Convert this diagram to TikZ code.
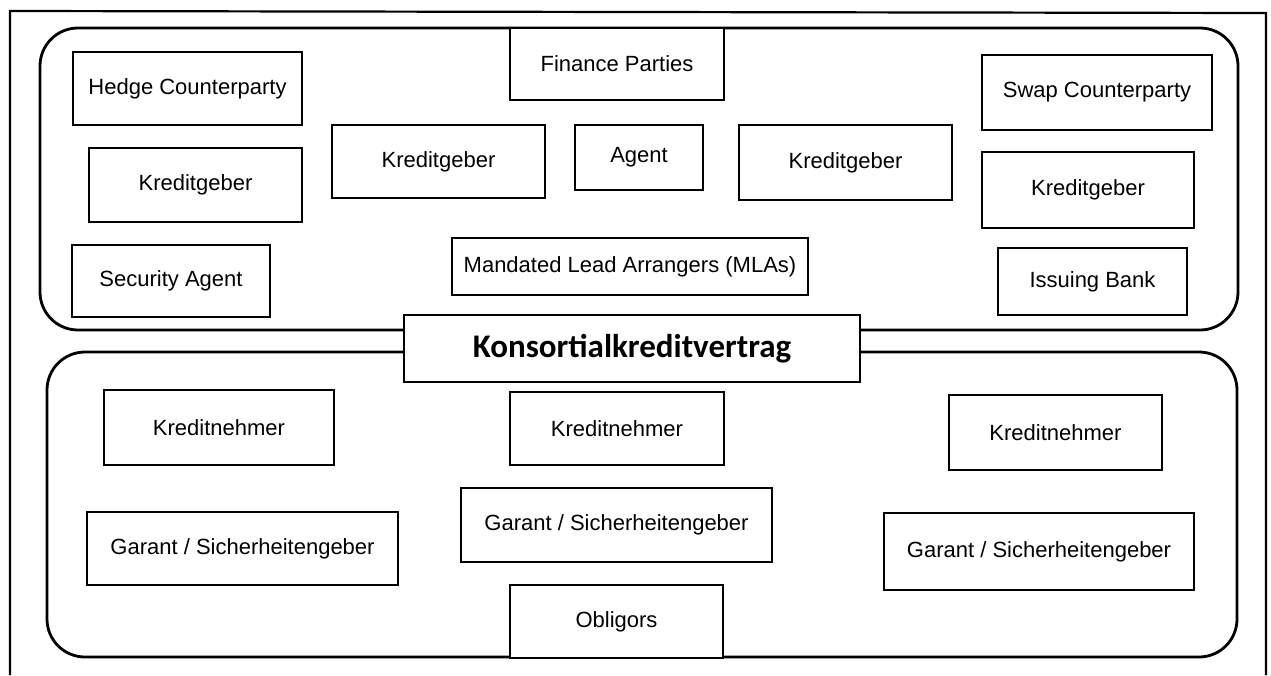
\documentclass[tikz,border=0pt]{standalone}
\usepackage{fontspec}
\setmainfont{Liberation Sans}
\newfontfamily\calibri{Carlito}
\begin{document}
\begin{tikzpicture}[x=1pt,y=-1pt,
  box/.style={draw, line width=2.6pt, fill=white, inner sep=0pt, font=\fontsize{22}{26}\selectfont},
  region/.style={draw, line width=2.8pt, rounded corners=38pt},
  frame/.style={draw, line width=2.2pt}]
\useasboundingbox (0,0) rectangle (1271,675);
% outer frame (open at bottom)
\draw[frame] (10,675) -- (10,11) -- (1266,13) -- (1266,675);
% regions
\draw[region] (40,28) rectangle (1238,330);
\draw[region] (47,352) rectangle (1237,657);
% upper boxes
\node[box, minimum width=229, minimum height=73] (hedge) at (187.5,88.5) {Hedge Counterparty};
\node[box, minimum width=213, minimum height=74] (kgL) at (195.5,185) {Kreditgeber};
\node[box, minimum width=198, minimum height=72] (sec) at (171,281) {Security Agent};
\node[box, minimum width=213, minimum height=73] (kgA) at (438.5,161.5) {Kreditgeber};
\node[box, minimum width=214, minimum height=72] (fin) at (617,64) {Finance Parties};
\node[box, minimum width=128, minimum height=65] (agent) at (639,157.5) {Agent};
\node[box, minimum width=213, minimum height=75] (kgB) at (845.5,162.5) {Kreditgeber};
\node[box, minimum width=356, minimum height=57] (mla) at (630,266.5) {Mandated Lead Arrangers (MLAs)};
\node[box, minimum width=230, minimum height=75] (swap) at (1097,92.5) {Swap Counterparty};
\node[box, minimum width=212, minimum height=76] (kgR) at (1088,190) {Kreditgeber};
\node[box, minimum width=189, minimum height=67] (issue) at (1092.5,281.5) {Issuing Bank};
% central
\node[box, minimum width=456, minimum height=67, font=\calibri\bfseries\fontsize{33}{37}\selectfont] (kons) at (632,348.5) {Konsortialkreditvertrag};
% lower boxes
\node[box, minimum width=230, minimum height=75] (knL) at (219,427.5) {Kreditnehmer};
\node[box, minimum width=311, minimum height=73] (gL) at (242.5,548.5) {Garant / Sicherheitengeber};
\node[box, minimum width=214, minimum height=73] (knM) at (617,428.5) {Kreditnehmer};
\node[box, minimum width=311, minimum height=74] (gM) at (616.5,525) {Garant / Sicherheitengeber};
\node[box, minimum width=213, minimum height=73] (obl) at (616.5,621.5) {Obligors};
\node[box, minimum width=213, minimum height=75] (knR) at (1055.5,432.5) {Kreditnehmer};
\node[box, minimum width=310, minimum height=77] (gR) at (1039,551.5) {Garant / Sicherheitengeber};
\end{tikzpicture}
\end{document}
